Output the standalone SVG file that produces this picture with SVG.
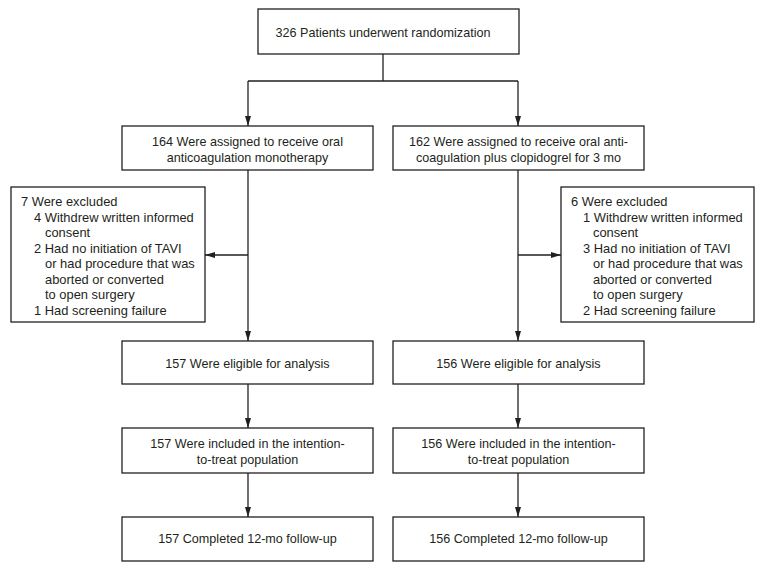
<svg xmlns="http://www.w3.org/2000/svg" width="762" height="566" viewBox="0 0 762 566">
<style>
.box{fill:#fff;stroke:#231f20;stroke-width:1.3}
.ln{fill:none;stroke:#231f20;stroke-width:1.3}
text{font-family:"Liberation Sans",Arial,sans-serif;font-size:12.6px;fill:#231f20}
.c{text-anchor:middle}
.ex text{font-size:12.9px}
</style>
<defs>
<marker id="ah" viewBox="0 0 10 6" refX="10" refY="3" markerWidth="10" markerHeight="6" markerUnits="userSpaceOnUse" orient="auto">
<path d="M0,0 L10,3 L0,6 Z" fill="#231f20"/>
</marker>
</defs>
<rect width="762" height="566" fill="#fff"/>
<g id="connectors">
<path class="ln" d="M383,54 V81 M248,81 H518"/>
<path class="ln" d="M248,81 V126" marker-end="url(#ah)"/>
<path class="ln" d="M518,81 V126" marker-end="url(#ah)"/>
<path class="ln" d="M248,170 V341" marker-end="url(#ah)"/>
<path class="ln" d="M518,170 V341" marker-end="url(#ah)"/>
<path class="ln" d="M248,255 H205" marker-end="url(#ah)"/>
<path class="ln" d="M518,255 H561" marker-end="url(#ah)"/>
<path class="ln" d="M248,384 V428" marker-end="url(#ah)"/>
<path class="ln" d="M518,384 V428" marker-end="url(#ah)"/>
<path class="ln" d="M248,473 V517" marker-end="url(#ah)"/>
<path class="ln" d="M518,473 V517" marker-end="url(#ah)"/>
</g>
<g id="randomization">
<rect class="box" x="258" y="9" width="261" height="45"/>
<text class="c" x="383" y="37">326 Patients underwent randomization</text>
</g>
<g id="assigned-left">
<rect class="box" x="122" y="126" width="251" height="44"/>
<text class="c" x="247.5" y="146">164 Were assigned to receive oral</text>
<text class="c" x="247.5" y="162">anticoagulation monotherapy</text>
</g>
<g id="assigned-right">
<rect class="box" x="393" y="126" width="251" height="44"/>
<text class="c" x="518.5" y="146">162 Were assigned to receive oral anti-</text>
<text class="c" x="518.5" y="162">coagulation plus clopidogrel for 3 mo</text>
</g>
<g id="excluded-left" class="ex">
<rect class="box" x="11" y="187" width="194" height="135"/>
<text x="21" y="206">7 Were excluded</text>
<text x="34" y="221.5">4 Withdrew written informed</text>
<text x="45" y="237">consent</text>
<text x="34" y="252.5">2 Had no initiation of TAVI</text>
<text x="45" y="268">or had procedure that was</text>
<text x="45" y="283.5">aborted or converted</text>
<text x="45" y="299">to open surgery</text>
<text x="34" y="314.5">1 Had screening failure</text>
</g>
<g id="excluded-right" class="ex">
<rect class="box" x="561" y="187" width="193" height="135"/>
<text x="571" y="206">6 Were excluded</text>
<text x="583" y="221.5">1 Withdrew written informed</text>
<text x="593" y="237">consent</text>
<text x="583" y="252.5">3 Had no initiation of TAVI</text>
<text x="593" y="268">or had procedure that was</text>
<text x="593" y="283.5">aborted or converted</text>
<text x="593" y="299">to open surgery</text>
<text x="583" y="314.5">2 Had screening failure</text>
</g>
<g id="eligible-left">
<rect class="box" x="122" y="341" width="251" height="43"/>
<text class="c" x="247.5" y="368">157 Were eligible for analysis</text>
</g>
<g id="eligible-right">
<rect class="box" x="393" y="341" width="251" height="43"/>
<text class="c" x="518.5" y="368">156 Were eligible for analysis</text>
</g>
<g id="itt-left">
<rect class="box" x="122" y="428" width="251" height="45"/>
<text class="c" x="247.5" y="448">157 Were included in the intention-</text>
<text class="c" x="247.5" y="463.5">to-treat population</text>
</g>
<g id="itt-right">
<rect class="box" x="393" y="428" width="251" height="45"/>
<text class="c" x="518.5" y="448">156 Were included in the intention-</text>
<text class="c" x="518.5" y="463.5">to-treat population</text>
</g>
<g id="followup-left">
<rect class="box" x="122" y="517" width="251" height="44"/>
<text class="c" x="247.5" y="543">157 Completed 12-mo follow-up</text>
</g>
<g id="followup-right">
<rect class="box" x="393" y="517" width="251" height="44"/>
<text class="c" x="518.5" y="543">156 Completed 12-mo follow-up</text>
</g>
</svg>
